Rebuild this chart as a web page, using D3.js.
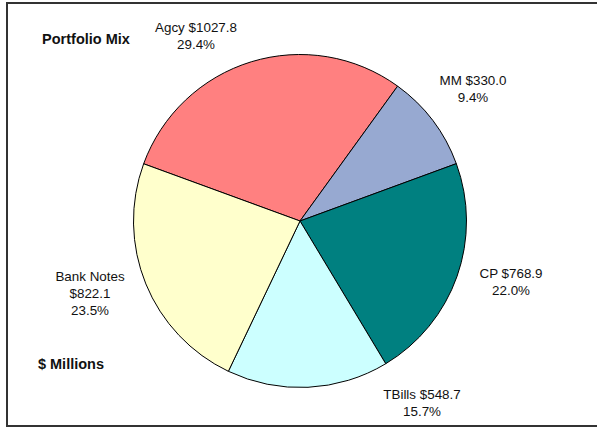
<!DOCTYPE html>
<html>
<head>
<meta charset="utf-8">
<script src="https://cdn.jsdelivr.net/npm/d3@7"></script>
<style>
  body { margin: 0; background: #fff; }
  text { font-family: "Liberation Sans", Arial, sans-serif; fill: #111; }
</style>
</head>
<body>
<div id="chart"></div>
<script>
// Portfolio mix, $ millions
const categories = ["Agcy", "MM", "CP", "TBills", "Bank Notes"];
const values = [1027.8, 330.0, 768.9, 548.7, 822.1];
const pctLabels = ["29.4%", "9.4%", "22.0%", "15.7%", "23.5%"];
const colors = ["#FF8080", "#97A9D1", "#008080", "#CCFFFF", "#FFFFCC"];

const W = 597, H = 428;
const cx = 300, cy = 221, radius = 166.5;

const svg = d3.select("#chart")
  .append("svg")
  .attr("width", W)
  .attr("height", H);

// chart frame
svg.append("rect")
  .attr("x", 7)
  .attr("y", 3)
  .attr("width", 600)
  .attr("height", 423)
  .attr("fill", "none")
  .attr("stroke", "#333")
  .attr("stroke-width", 2);

const pie = d3.pie()
  .sort(null)
  .value(d => d)
  .startAngle(-69.9 * Math.PI / 180)
  .endAngle((360 - 69.9) * Math.PI / 180);

const arc = d3.arc().innerRadius(0).outerRadius(radius);

const g = svg.append("g")
  .attr("transform", `translate(${cx},${cy})`);

const arcs = pie(values);

g.selectAll("path")
  .data(arcs)
  .join("path")
  .attr("d", arc)
  .attr("fill", (d, i) => colors[i])
  .attr("stroke", "#000")
  .attr("stroke-width", 1);

// label placement (relative to pie centre), Excel-style outside labels
const labelPos = [[-104, -189], [173, -136], [211, 57], [122, 178], [-210, 60]];

const labelLines = categories.map((c, i) => {
  const money = "$" + values[i].toFixed(1);
  if (c === "Bank Notes") return [c, money, pctLabels[i]];
  return [c + " " + money, pctLabels[i]];
});

const labels = g.selectAll("text.lbl")
  .data(arcs)
  .join("text")
  .attr("class", "lbl")
  .attr("text-anchor", "middle")
  .attr("font-size", "13.4px")
  .attr("transform", (d, i) => `translate(${labelPos[i][0]},${labelPos[i][1]})`);

labels.each(function(d, i) {
  d3.select(this).selectAll("tspan")
    .data(labelLines[i])
    .join("tspan")
    .attr("x", 0)
    .attr("y", (t, j) => j * 16.8)
    .text(t => t);
});

svg.append("text")
  .attr("x", 86)
  .attr("y", 43.5)
  .attr("text-anchor", "middle")
  .attr("font-size", "14.5px")
  .attr("font-weight", "bold")
  .text("Portfolio Mix");

svg.append("text")
  .attr("x", 71)
  .attr("y", 369)
  .attr("text-anchor", "middle")
  .attr("font-size", "14.5px")
  .attr("font-weight", "bold")
  .text("$ Millions");
</script>
</body>
</html>
